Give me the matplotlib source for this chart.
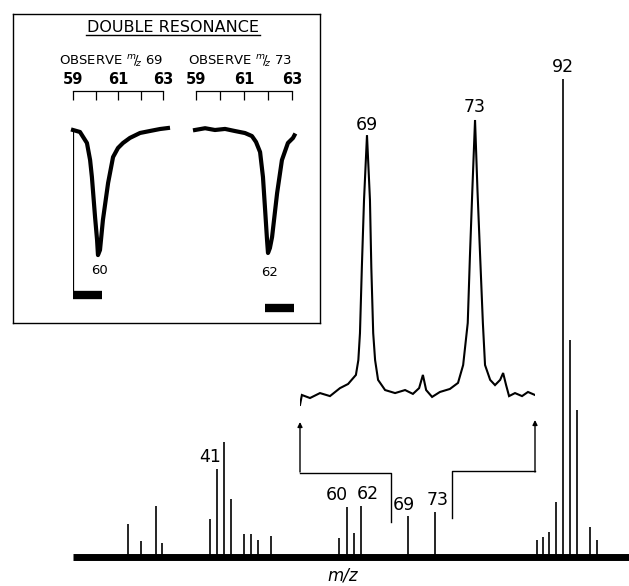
import matplotlib
matplotlib.use("Agg")
import matplotlib.pyplot as plt

# ---------------- data ----------------
# main spectrum: stick peaks, m/z and relative intensity (base peak m/z 92 = 100)
peak_mz = [27.6, 29.5, 31.7, 32.6, 39.7, 40.7, 41.8, 42.8, 44.7, 45.8, 46.8, 48.7,
           58.8, 60.0, 61.0, 62.0, 69.0, 73.0,
           88.1, 89.0, 89.9, 91.0, 92.0, 93.0, 94.1, 96.0, 97.0]
peak_int = [6.9, 3.3, 10.7, 2.9, 7.9, 18.4, 24.1, 12.1, 4.8, 4.8, 3.6, 4.4,
            4.0, 10.5, 5.0, 10.7, 8.6, 9.4,
            3.6, 4.2, 5.2, 11.5, 100.0, 45.4, 30.8, 6.3, 3.6]
main_range = [19.4, 101.8]          # extent of the recorded baseline (m/z)
expand_range = [66.5, 75.5]         # region shown expanded (m/z)
main_labels = ["41", "60", "62", "69", "73", "92"]

# expanded region trace (m/z, relative intensity, m/z 73 = 100)
exp_mz = [66.52, 66.59, 66.89, 67.26, 67.63, 68.00, 68.30, 68.52, 68.59, 68.68,
          68.74, 68.81, 68.89, 69.00, 69.11, 69.16, 69.23, 69.30, 69.41, 69.67,
          70.04, 70.41, 70.70, 70.93, 71.07, 71.19, 71.41, 71.70, 72.07, 72.37,
          72.56, 72.73, 72.81, 72.90, 73.00, 73.09, 73.19, 73.29, 73.37, 73.56,
          73.74, 73.93, 74.04, 74.15, 74.26, 74.48, 74.74, 74.96, 75.22]
exp_int = [-3.6, 0.0, -1.1, 0.7, -0.4, 2.5, 4.0, 6.5, 7.3, 12.7,
           22.5, 46.5, 70.9, 94.5, 70.9, 46.5, 22.5, 12.7, 5.5, 1.8,
           0.7, 1.8, 0.4, 2.5, 7.3, 1.8, -0.7, 1.1, 2.2, 4.4,
           10.9, 26.2, 50.2, 74.5, 100.0, 74.5, 50.2, 26.2, 10.9, 5.5,
           3.6, 5.5, 8.0, 3.6, -0.4, 0.7, -0.4, 1.1, 0.0]
exp_labels = ["69", "73"]

# double resonance: observe m/z 69 while irradiating m/z 59-63
dr69_mz = [59.0, 59.31, 59.62, 59.76, 59.84, 59.98, 60.07, 60.11, 60.2, 60.33,
           60.56, 60.78, 61.0, 61.22, 61.53, 61.98, 62.42, 62.87, 63.22]
dr69_int = [100, 98.8, 92.1, 81.8, 71.5, 47.3, 33.3, 24.2, 27.3, 45.5,
            67.9, 83.6, 89.1, 92.1, 95.2, 98.2, 99.4, 100.6, 101.2]
dr69_zero = [59.0, 60.3]
# observe m/z 73
dr73_mz = [58.96, 59.38, 59.79, 60.21, 60.63, 61.04, 61.33, 61.5, 61.67, 61.79,
           61.88, 61.96, 62.0, 62.08, 62.17, 62.38, 62.58, 62.83, 63.04, 63.1]
dr73_int = [100, 101, 100, 100.6, 99.4, 98.3, 96.6, 93.3, 87.6, 73.6,
            55.1, 38.2, 30.9, 33.7, 39.9, 64.6, 83.1, 92.7, 95.5, 97.0]
dr73_zero = [61.88, 63.1]
dr_ticks_major = [59, 61, 63]
dr_ticks_minor = [60, 62]
dr_labels = ["60", "62"]

# ---------------- layout ----------------
W, H = 629, 586
plt.rcParams['font.family'] = ['DejaVu Sans']
fig = plt.figure(figsize=(W / 100, H / 100), dpi=100)


def rect(x0, y0, x1, y1):
    return [x0 / W, 1 - y1 / H, (x1 - x0) / W, (y1 - y0) / H]


def ptext(px, py, s, size=12.5, **kw):
    fig.text(px / W, 1 - py / H, s, ha='center', va='center', fontsize=size, **kw)


# main spectrum axes (whole figure)
ax = fig.add_axes([0, 0, 1, 1])
ax.set_xlim((0 + 58) / 6.75, (W + 58) / 6.75)
base_px, scale = 557, 4.78
ax.set_ylim(-(H - base_px) / scale, base_px / scale)
ax.axis('off')


def yv(py):
    return (base_px - py) / scale


ax.plot(main_range, [0, 0], color='black', lw=5.0, solid_capstyle='butt')
ax.vlines(peak_mz, 0, peak_int, color='black', lw=1.2)

# expanded trace axes
axe = fig.add_axes(rect(300, 100, 535, 420))
axe.set_xlim(66.52, 75.22)
axe.set_ylim((395 - 420) / 2.75, (395 - 100) / 2.75)
axe.axis('off')
axe.plot(exp_mz, exp_int, color='black', lw=1.5, solid_joinstyle='miter')

# brackets linking expanded trace to main spectrum
fig.canvas.draw()


def to_main(a, x, y):
    d = a.transData.transform((x, y))
    return ax.transData.inverted().transform(d)


xl = to_main(axe, exp_mz[0], 0)[0]
xr = to_main(axe, exp_mz[-1], 0)[0]
ax.plot([xl, expand_range[0], expand_range[0]], [yv(473), yv(473), yv(522)],
        color='black', lw=1.0)
ax.plot([xr, expand_range[1], expand_range[1]], [yv(471), yv(471), yv(518)],
        color='black', lw=1.0)
for xx, ytop in [(xl, 422), (xr, 420)]:
    ax.annotate('', xy=(xx, yv(ytop)), xytext=(xx, yv(472)),
                arrowprops=dict(arrowstyle='-|>', color='black', lw=1.0,
                                mutation_scale=7, shrinkA=0, shrinkB=0))

# labels on main spectrum
for s, (px, py) in zip(main_labels, [(210, 457), (337, 495), (368, 494),
                                     (404, 505), (438, 500), (563, 67)]):
    ptext(px, py, s)
for s, (px, py) in zip(exp_labels, [(367, 125), (475, 107)]):
    ptext(px, py, s)
ptext(343, 575, 'm/z', size=12, style='italic')

# ---------------- inset: double resonance ----------------
axb = fig.add_axes(rect(13, 14, 320, 323))
axb.set_xlim(13, 320)
axb.set_ylim(323, 14)
axb.set_xticks([])
axb.set_yticks([])
for sp in axb.spines.values():
    sp.set_linewidth(1.0)
axb.text(173, 27.5, 'DOUBLE RESONANCE', ha='center', va='center', fontsize=11.5)
axb.plot([86, 260], [34.5, 34.5], color='black', lw=1.0)
axb.text(111, 62, r'OBSERVE $^{m}\!/\!_{z}$ 69', ha='center', va='center', fontsize=9.5)
axb.text(240, 62, r'OBSERVE $^{m}\!/\!_{z}$ 73', ha='center', va='center', fontsize=9.5)


def dr_axes(r, ylim):
    a = fig.add_axes(r)
    a.set_xlim(59, 63)
    a.set_ylim(*ylim)
    a.patch.set_alpha(0)
    for k in ['left', 'right', 'bottom']:
        a.spines[k].set_visible(False)
    a.spines['top'].set_linewidth(0.9)
    a.set_yticks([])
    a.xaxis.tick_top()
    a.set_xticks(dr_ticks_major)
    a.set_xticks(dr_ticks_minor, minor=True)
    a.tick_params(axis='x', which='both', direction='in', length=6.5, width=0.9,
                  top=True, bottom=False, labeltop=True, labelbottom=False,
                  pad=3, labelsize=10.5)
    for t in a.get_xticklabels():
        t.set_fontweight('bold')
    return a


a1 = dr_axes(rect(73, 91, 163, 310), ((295 - 310) / 1.65, (295 - 91) / 1.65))
a1.plot(dr69_mz, dr69_int, color='black', lw=3.0, clip_on=False, solid_joinstyle='round')
a1.plot(dr69_zero, [0, 0], color='black', lw=6.0, solid_capstyle='butt', clip_on=False)
a1.vlines([dr69_zero[0]], 0, dr69_int[0], color='black', lw=0.9)

a2 = dr_axes(rect(196, 91, 292, 320), ((308 - 320) / 1.78, (308 - 91) / 1.78))
a2.plot(dr73_mz, dr73_int, color='black', lw=3.0, clip_on=False, solid_joinstyle='round')
a2.plot(dr73_zero, [0, 0], color='black', lw=6.0, solid_capstyle='butt', clip_on=False)
a2.vlines([dr73_zero[1]], 0, dr73_int[-1], color='black', lw=0.9)

axb.text(100, 270, dr_labels[0], ha='center', va='center', fontsize=9.5)
axb.text(270, 272, dr_labels[1], ha='center', va='center', fontsize=9.5)

fig.savefig('out.png', dpi=100)
